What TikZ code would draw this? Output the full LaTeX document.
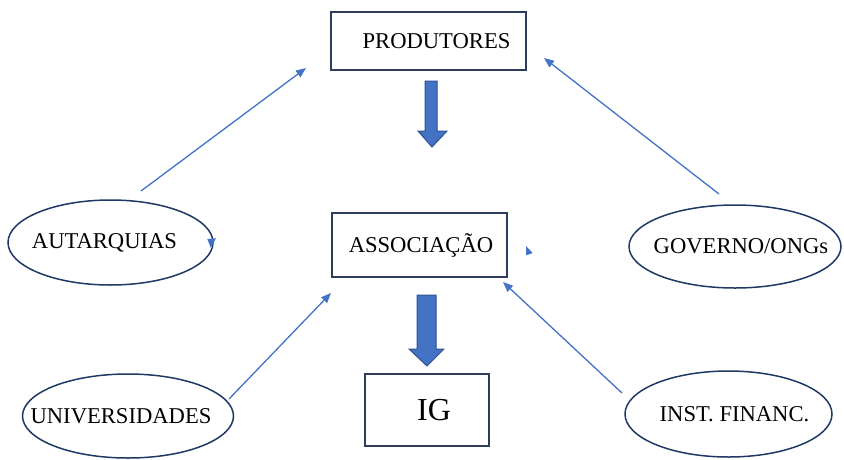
\documentclass[tikz,border=0pt]{standalone}
\usepackage{fontspec}
\setmainfont{Liberation Serif}
\usetikzlibrary{shapes.geometric,arrows.meta}
\definecolor{arrblue}{HTML}{4472C4}
\definecolor{arrdark}{HTML}{2F528F}
\definecolor{ellline}{HTML}{1F3864}
\definecolor{boxline}{HTML}{2E3D5C}
\newcommand\mytxt[2]{\makebox[0pt]{\kern#1\relax#2}}
\tikzset{
  boxnode/.style={draw=boxline,line width=1.4pt,rectangle,inner sep=0pt,font=\fontsize{22.6}{26}\selectfont},
  ellnode/.style={draw=ellline,line width=1.5pt,ellipse,inner sep=0pt,font=\fontsize{22.6}{26}\selectfont},
  conn/.style={draw=arrblue,line width=1.3pt,-{Triangle[length=10pt,width=8pt]}},
  bigarrow/.style={fill=arrblue,draw=arrdark,line width=1pt,line join=miter},
  strayhead/.style={fill=arrblue}
}
\begin{document}
\begin{tikzpicture}[x=1pt,y=-1pt]
\useasboundingbox (0,0) rectangle (844,459);
% boxes
\node[boxnode,minimum width=195pt,minimum height=58pt] (prod) at (428.5,41) {\mytxt{16pt}{PRODUTORES}};
\node[boxnode,minimum width=175pt,minimum height=64pt] (assoc) at (419.5,245) {\raisebox{2pt}{\mytxt{3pt}{ASSOCIAÇÃO}}};
\node[boxnode,minimum width=124pt,minimum height=72pt,font=\fontsize{32}{36}\selectfont] (ig) at (427,410) {\mytxt{14pt}{IG}};
% ellipses
\node[ellnode,minimum width=205pt,minimum height=85pt] (aut) at (110.5,242.5) {\mytxt{-12pt}{AUTARQUIAS}};
\node[ellnode,minimum width=212pt,minimum height=83pt] (gov) at (735,246.5) {\mytxt{12pt}{GOVERNO/ONGs}};
\node[ellnode,minimum width=211pt,minimum height=84pt] (univ) at (128,416) {\mytxt{-14pt}{UNIVERSIDADES}};
\node[ellnode,minimum width=207pt,minimum height=86pt] (inst) at (728.5,414) {\mytxt{12pt}{INST. FINANC.}};
% connector end points
\coordinate (autS) at (141,191);
\coordinate (autT) at (306,68);
\coordinate (govS) at (719,194);
\coordinate (govT) at (544,58);
\coordinate (univS) at (229,399);
\coordinate (univT) at (331,293);
\coordinate (instS) at (622,393);
\coordinate (instT) at (503,282);
\draw[conn] (autS) -- (autT);
\draw[conn] (govS) -- (govT);
\draw[conn] (univS) -- (univT);
\draw[conn] (instS) -- (instT);
% stray arrowheads
\fill[strayhead] (207.3,239) -- (216,238.3) -- (210.7,247.7) -- cycle;
\fill[strayhead] (526,246) -- (526,255.3) -- (532.7,253) -- cycle;
% block arrows
\draw[bigarrow] (425,81) -- (437,81) -- (437,131) -- (447,131) -- (432,147) -- (418,131) -- (425,131) -- cycle;
\draw[bigarrow] (417,295) -- (436,295) -- (436,349) -- (444,349) -- (427,366) -- (409,349) -- (417,349) -- cycle;
\end{tikzpicture}
\end{document}
